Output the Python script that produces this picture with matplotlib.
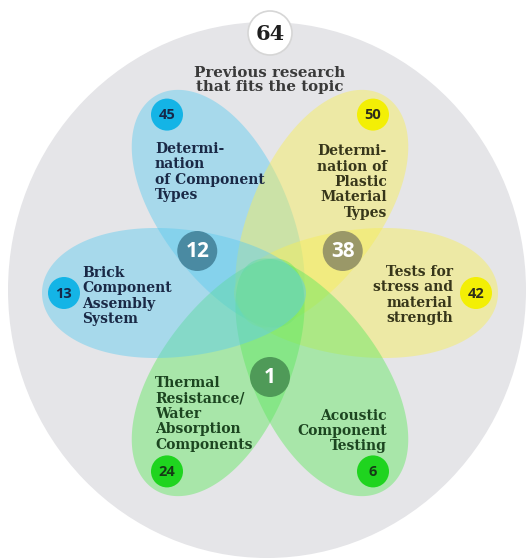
import numpy as np
import matplotlib
matplotlib.use("Agg")
import matplotlib.pyplot as plt
from matplotlib.patches import Ellipse, Circle, Polygon

# ---------------- data ----------------
total_count = 64
title_text = "Previous research\nthat fits the topic"

petal_labels = [
    "Determi-\nnation\nof Component\nTypes",
    "Determi-\nnation of\nPlastic\nMaterial\nTypes",
    "Tests for\nstress and\nmaterial\nstrength",
    "Acoustic\nComponent\nTesting",
    "Thermal\nResistance/\nWater\nAbsorption\nComponents",
    "Brick\nComponent\nAssembly\nSystem",
]
petal_counts = [45, 50, 42, 6, 24, 13]
petal_groups = ["blue", "yellow", "yellow", "green", "green", "blue"]
petal_dirs = [120, 60, 0, 300, 240, 180]   # direction of each petal (degrees)

inner_counts = [12, 38, 1]
inner_dirs = [150, 30, 270]

# ---------------- style ----------------
fill = {"blue": "#5ccbef", "yellow": "#f7ee55", "green": "#5ee85e"}
badge = {"blue": "#14b4e6", "yellow": "#f3ef05", "green": "#1fd41f"}
badge_txt = {"blue": "#16284a", "yellow": "#2e2e1a", "green": "#163a16"}
label_txt = {"blue": "#1a2946", "yellow": "#37361a", "green": "#1c4520"}
inner_col = ["#4a8aa2", "#9a9868", "#4f9a58"]

W, H = 531, 558
cx, cy = 270, 293          # flower centre (pixels, y down)
fig = plt.figure(figsize=(W / 100, H / 100), dpi=100)
ax = fig.add_axes([0, 0, 1, 1])
ax.set_xlim(0, W)
ax.set_ylim(H, 0)
ax.axis("off")

serif = ["DejaVu Serif"]
sans = ["Open Sans", "DejaVu Sans"]

# background disc
ax.add_patch(Ellipse((267, 290), 518, 536, facecolor="#e5e5e8", edgecolor="none", zorder=0))

def unit(deg):
    r = np.deg2rad(deg)
    return np.cos(r), -np.sin(r)

# petals: slightly egg-shaped, blunter at the outer end
L_far, L_near, half_w, k = 228, 36, 65, 0.14
a = (L_far + L_near) / 2
off = (L_far - L_near) / 2
t = np.linspace(0, 2 * np.pi, 400)
prof = np.sin(t) * (1 + k * np.cos(t))
bw = half_w / np.abs(prof).max()
u_loc = off + a * np.cos(t)
v_loc = bw * prof
for d, g in zip(petal_dirs, petal_groups):
    ux, uy = unit(d)
    px = cx + u_loc * ux - v_loc * uy
    py = cy + u_loc * uy + v_loc * ux
    ax.add_patch(Polygon(np.column_stack([px, py]), closed=True,
                         facecolor=fill[g], edgecolor="none", alpha=0.45, zorder=1))

# outer badges
r_badge = 206
for d, g, n in zip(petal_dirs, petal_groups, petal_counts):
    ux, uy = unit(d)
    bx, by = cx + ux * r_badge, cy + uy * r_badge
    ax.add_patch(Circle((bx, by), 16, facecolor=badge[g], edgecolor="none", zorder=3))
    ax.text(bx, by + 0.5, str(n), ha="center", va="center", fontsize=10.5,
            fontweight="bold", family=sans, color=badge_txt[g], zorder=4)

# inner badges
for d, c, n in zip(inner_dirs, inner_col, inner_counts):
    ux, uy = unit(d)
    bx, by = cx + ux * 84, cy + uy * 84
    ax.add_patch(Circle((bx, by), 20, facecolor=c, edgecolor="none", zorder=3))
    ax.text(bx, by + 0.5, str(n), ha="center", va="center", fontsize=15,
            fontweight="bold", family=sans, color="white", zorder=4)

# petal labels (position, alignment)
label_pos = [(155, 172, "left"), (387, 182, "right"), (453, 295, "right"),
             (387, 431, "right"), (155, 414, "left"), (82, 296, "left")]
for (x, y, ha), txt, g in zip(label_pos, petal_labels, petal_groups):
    ax.text(x, y, txt, ha=ha, va="center", fontsize=10, fontweight="bold",
            family=serif, color=label_txt[g], linespacing=1.12, zorder=5)

# top total badge
ax.add_patch(Circle((270, 33), 22, facecolor="white", edgecolor="#d6d6d6", lw=1.2, zorder=3))
ax.text(270, 34, str(total_count), ha="center", va="center", fontsize=15,
        fontweight="bold", family=serif, color="#1e1e1e", zorder=4)
ax.text(270, 80, title_text, ha="center", va="center", fontsize=10.8,
        fontweight="bold", family=serif, color="#3a3a3a", linespacing=1.05, zorder=5)

fig.savefig("out.png", dpi=100, facecolor="white")
